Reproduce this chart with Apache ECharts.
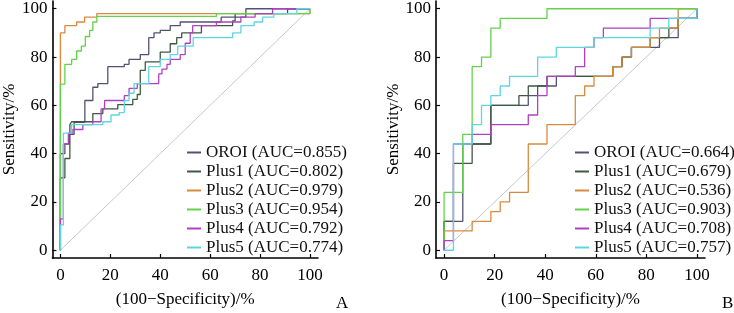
<!DOCTYPE html>
<html>
<head>
<meta charset="utf-8">
<title>ROC</title>
<script src="https://cdn.jsdelivr.net/npm/echarts@6/dist/echarts.min.js"></script>
<style>
html, body { margin: 0; padding: 0; background: #fff; }
#main { width: 734px; height: 313px; }
</style>
</head>
<body>
<div id="main"></div>
<script type="text/javascript">
// tick labels shared by both panels
var tickValues = [0, 20, 40, 60, 80, 100];

// legend names
var namesA = ['OROI (AUC=0.855)', 'Plus1 (AUC=0.802)', 'Plus2 (AUC=0.979)', 'Plus3 (AUC=0.954)', 'Plus4 (AUC=0.792)', 'Plus5 (AUC=0.774)'];
var namesB = ['OROI (AUC=0.664)', 'Plus1 (AUC=0.679)', 'Plus2 (AUC=0.536)', 'Plus3 (AUC=0.903)', 'Plus4 (AUC=0.708)', 'Plus5 (AUC=0.757)'];

// panel A curves: [100-specificity, sensitivity]
var orOiA = [[0,0],[0,40],[1.8,40],[1.8,44],[3.5,44],[3.5,48],[5.5,48],[5.5,53],[9.8,53],[9.8,62],[13,62],[13,67.5],[15,67.5],[15,69],[19,69],[19,76],[25.6,76],[25.6,77],[27.5,77],[27.5,79],[32,79],[32,81],[35.4,81],[35.4,88],[37.5,88],[37.5,90],[40,90],[40,91],[44,91],[44,93],[48,93],[48,94.5],[64.4,94.5],[64.4,96.5],[74.3,96.5],[74.3,100],[100,100]];
var plus1A = [[0,0],[0,30],[1.8,30],[1.8,38],[3.8,38],[3.8,52],[4.5,52],[4.5,53.2],[13,53.2],[13,56.6],[17,56.6],[17,58.5],[23,58.5],[23,60.3],[29,60.3],[29,62.5],[30.8,62.5],[30.8,64.5],[32,64.5],[32,74.5],[34,74.5],[34,78],[40,78],[40,82],[44,82],[44,85.5],[46.6,85.5],[46.6,88],[48.6,88],[48.6,90],[56.5,90],[56.5,93],[69,93],[69,95],[70,95],[70,98],[91,98],[91,100],[100,100]];
var plus2A = [[0,0],[0,90],[1.8,90],[1.8,93],[6.5,93],[6.5,94.5],[9.7,94.5],[9.7,96.5],[14.6,96.5],[14.6,98],[100,98],[100,100]];
var plus3A = [[0,0],[0,68.8],[1.8,68.8],[1.8,77],[4.5,77],[4.5,79],[6.5,79],[6.5,82.5],[8.4,82.5],[8.4,84.5],[10,84.5],[10,88.5],[11.7,88.5],[11.7,91],[13,91],[13,94.5],[14.6,94.5],[14.6,96.8],[62.5,96.8],[62.5,98],[100,98],[100,100]];
var plus4A = [[0,0],[0,13],[1.2,13],[1.2,44],[3.2,44],[3.2,48.5],[5,48.5],[5,50],[9,50],[9,52],[13,52],[13,53.2],[16.3,53.2],[16.3,58.5],[17.7,58.5],[17.7,62],[25.6,62],[25.6,64],[27.5,64],[27.5,67],[30.8,67],[30.8,69],[39.4,69],[39.4,73],[40.7,73],[40.7,75],[42.7,75],[42.7,77],[44,77],[44,79],[48,79],[48,81],[50,81],[50,85.7],[52,85.7],[52,90],[53,90],[53,93],[62.5,93],[62.5,94.5],[72.3,94.5],[72.3,96.5],[78,96.5],[78,98],[85,98],[85,100],[100,100]];
var plus5A = [[0,0],[0,10.5],[1.2,10.5],[1.2,48.5],[4.5,48.5],[4.5,52],[17,52],[17,53.2],[20.3,53.2],[20.3,56],[23.6,56],[23.6,57],[25.6,57],[25.6,62],[27.5,62],[27.5,65],[29.5,65],[29.5,69],[35.4,69],[35.4,76],[40,76],[40,79],[44,79],[44,81],[47,81],[47,84.5],[53.2,84.5],[53.2,88],[69,88],[69,90],[72.3,90],[72.3,93],[77.6,93],[77.6,94.5],[81,94.5],[81,96.5],[85.5,96.5],[85.5,98],[94.7,98],[94.7,100],[100,100]];

// panel B curves
var orOiB = [[0,0],[0,12],[7.4,12],[7.4,44],[18.5,44],[18.5,60],[33.3,60],[33.3,64],[37,64],[37,68],[44.4,68],[44.4,72],[66.7,72],[66.7,76],[70.4,76],[70.4,80],[74.1,80],[74.1,84],[85.2,84],[85.2,88],[92.6,88],[92.6,96],[100,96],[100,100]];
var plus1B = [[0,0],[0,12],[3.7,12],[3.7,36],[11.1,36],[11.1,44],[18.5,44],[18.5,60],[29.6,60],[29.6,64],[33.3,64],[33.3,68],[40.7,68],[40.7,72],[66.7,72],[66.7,76],[70.4,76],[70.4,80],[74.1,80],[74.1,84],[81.5,84],[81.5,88],[88.9,88],[88.9,92],[92.6,92],[92.6,96],[100,96],[100,100]];
var plus2B = [[0,0],[0,8],[11.1,8],[11.1,12],[18.5,12],[18.5,16],[22.2,16],[22.2,20],[25.9,20],[25.9,24],[33.3,24],[33.3,44],[40.7,44],[40.7,52],[51.9,52],[51.9,64],[55.6,64],[55.6,68],[59.3,68],[59.3,72],[66.7,72],[66.7,76],[70.4,76],[70.4,80],[74.1,80],[74.1,84],[81.5,84],[81.5,88],[85.2,88],[85.2,92],[92.6,92],[92.6,100],[100,100]];
var plus3B = [[0,0],[0,24],[7.4,24],[7.4,48],[11.1,48],[11.1,76],[14.8,76],[14.8,80],[18.5,80],[18.5,92],[22.2,92],[22.2,96],[40.7,96],[40.7,100],[100,100]];
var plus4B = [[0,0],[0,4],[3.7,4],[3.7,44],[11.1,44],[11.1,48],[18.5,48],[18.5,52],[33.3,52],[33.3,56],[37,56],[37,64],[40.7,64],[40.7,72],[51.9,72],[51.9,76],[55.6,76],[55.6,84],[59.3,84],[59.3,88],[63,88],[63,92],[81.5,92],[81.5,96],[100,96],[100,100]];
var plus5B = [[0,0],[3.7,0],[3.7,44],[11.1,44],[11.1,52],[14.8,52],[14.8,60],[18.5,60],[18.5,64],[22.2,64],[22.2,68],[25.9,68],[25.9,72],[37,72],[37,80],[44.4,80],[44.4,84],[59.3,84],[59.3,88],[81.5,88],[81.5,92],[88.9,92],[88.9,96],[100,96],[100,100]];

var diagonal = [[0,0],[100,100]];

var colors = ['#525272', '#3e5844', '#d98b3d', '#63d24b', '#b040c2', '#5dd6e0'];
var serif = 'Liberation Serif';

var myChart = echarts.init(document.getElementById('main'));

function xAxisFor(idx) {
	return {
		gridIndex: idx,
		type: 'value',
		min: -3.2,
		max: 103.2,
		name: '(100\u2212Specificity)/%',
		nameLocation: 'middle',
		nameGap: 33,
		nameTextStyle: { fontFamily: serif, fontSize: 17, color: '#000' },
		axisLine: { onZero: false, lineStyle: { color: '#000', width: 1.6 } },
		axisTick: { inside: true, length: 4, customValues: tickValues, lineStyle: { color: '#000', width: 1.2 } },
		axisLabel: { customValues: tickValues, fontFamily: serif, fontSize: 17, color: '#000', margin: 9 },
		splitLine: { show: false }
	};
}

function yAxisFor(idx) {
	return {
		gridIndex: idx,
		type: 'value',
		min: -3.2,
		max: 103.2,
		name: 'Sensitivity/%',
		nameLocation: 'middle',
		nameGap: 32,
		nameTextStyle: { fontFamily: serif, fontSize: 17, color: '#000' },
		axisLine: { onZero: false, lineStyle: { color: '#000', width: 1.6 } },
		axisTick: { inside: true, length: 4, customValues: tickValues, lineStyle: { color: '#000', width: 1.2 } },
		axisLabel: { customValues: tickValues, fontFamily: serif, fontSize: 17, color: '#000', margin: 5 },
		splitLine: { show: false }
	};
}

function curve(name, data, idx, color) {
	return {
		name: name,
		type: 'line',
		xAxisIndex: idx,
		yAxisIndex: idx,
		data: data,
		symbol: 'none',
		color: color,
		lineStyle: { color: color, width: 1.3 }
	};
}

var curvesA = [orOiA, plus1A, plus2A, plus3A, plus4A, plus5A];
var curvesB = [orOiB, plus1B, plus2B, plus3B, plus4B, plus5B];

var series = [];
[0, 1].forEach(function(idx) {
	series.push({
		type: 'line',
		xAxisIndex: idx,
		yAxisIndex: idx,
		data: diagonal,
		symbol: 'none',
		silent: true,
		lineStyle: { color: '#c8c8c8', width: 1 }
	});
});
for (var i = 0; i < 6; i++) {
	series.push(curve(namesA[i], curvesA[i], 0, colors[i]));
}
for (var j = 0; j < 6; j++) {
	series.push(curve(namesB[j], curvesB[j], 1, colors[j]));
}

function legendFor(names, left) {
	return {
		data: names,
		orient: 'vertical',
		left: left,
		top: 143,
		icon: 'rect',
		itemWidth: 14,
		itemHeight: 2,
		itemGap: 0,
		padding: 0,
		selectedMode: false,
		textStyle: { fontFamily: serif, fontSize: 17, color: '#111', lineHeight: 19 }
	};
}

var option = {
	animation: false,
	backgroundColor: '#fff',
	grid: [
		{ left: 49, top: 1, width: 269, height: 265 },
		{ left: 436, top: 1, width: 269, height: 265 }
	],
	xAxis: [xAxisFor(0), xAxisFor(1)],
	yAxis: [yAxisFor(0), yAxisFor(1)],
	legend: [legendFor(namesA, 187), legendFor(namesB, 575)],
	graphic: [
		{ type: 'text', left: 336, top: 295, style: { text: 'A', font: '17px "Liberation Serif"', fill: '#000' } },
		{ type: 'text', left: 722, top: 295, style: { text: 'B', font: '17px "Liberation Serif"', fill: '#000' } }
	],
	series: series
};

myChart.setOption(option);
</script>
</body>
</html>
